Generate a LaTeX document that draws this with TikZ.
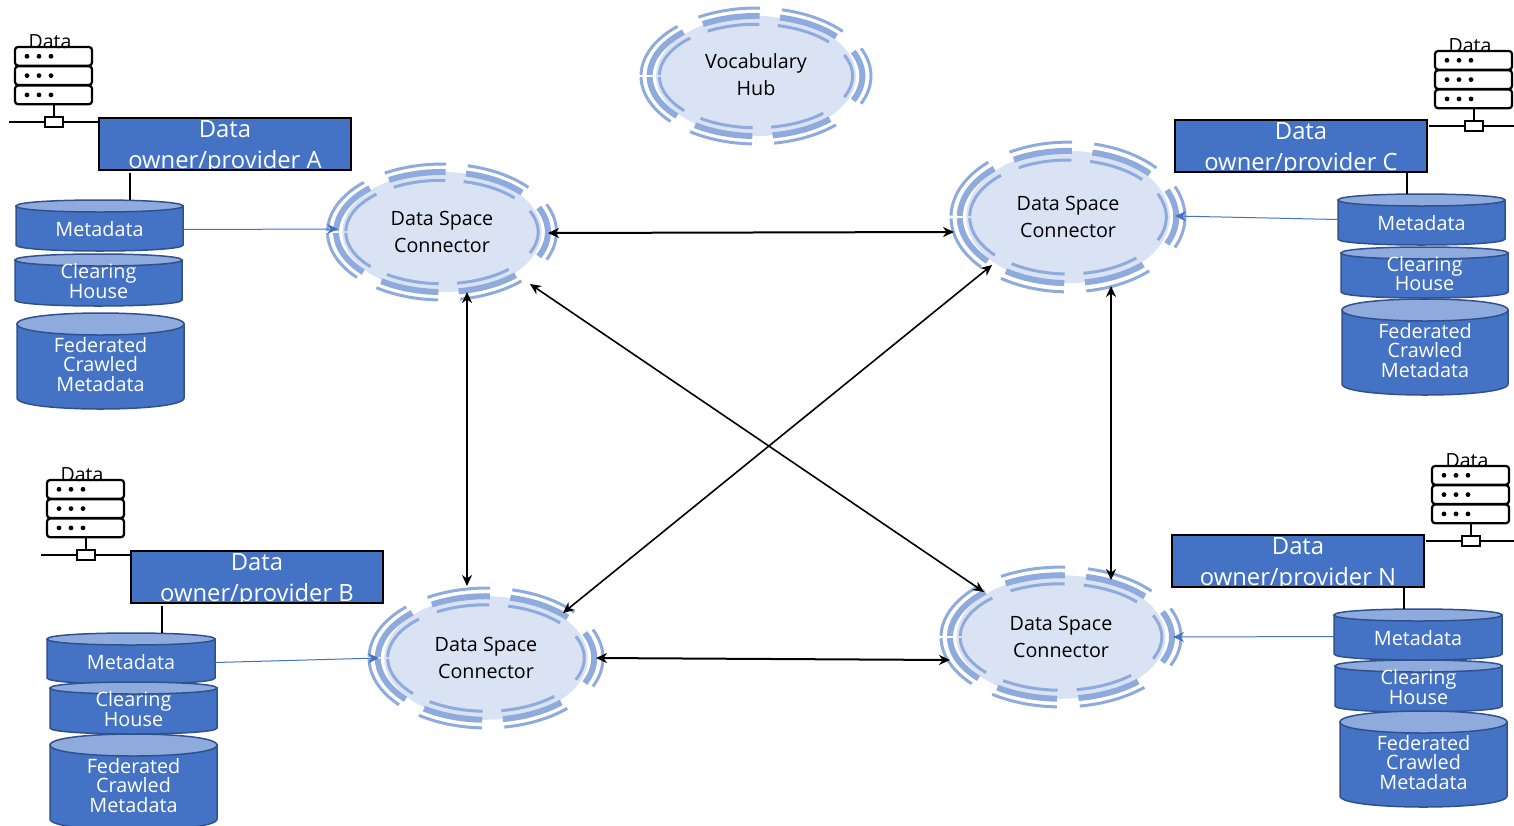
\documentclass[tikz,border=0pt]{standalone}
\usepackage{fontspec}
\setmainfont{Open Sans}
\usetikzlibrary{shapes.geometric,arrows.meta}
\definecolor{bluefill}{HTML}{4472C4}
\definecolor{blueedge}{HTML}{2F528F}
\definecolor{bluetop}{HTML}{8FAADC}
\definecolor{ringfill}{HTML}{DAE3F3}
\definecolor{ringline}{HTML}{8FAADC}
\tikzset{
  ringlabel/.style={inner sep=0pt,align=center,text=black,font=\fontsize{19.7}{27.3}\selectfont},
  ringbody/.style={ellipse,fill=ringfill,ringlabel},
  ringthin/.style={draw=ringline,line width=3pt},
  ringthick/.style={draw=ringline,line width=6pt},
  cylbody/.style={fill=bluefill,draw=blueedge,line width=1.5pt},
  cyltop/.style={fill=bluetop,draw=blueedge,line width=1.5pt},
  cyltext/.style={text=white,align=center,inner sep=0pt,font=\fontsize{19.8}{19.3}\selectfont},
  ownerbox/.style={draw=black,line width=2pt,fill=bluefill,minimum width=252pt,minimum height=52pt,inner sep=0pt},
  ownertext/.style={text=white,align=center,inner sep=0pt,font=\fontsize{23.8}{31}\selectfont},
  srv/.style={draw=black,line width=2.2pt,fill=white,rounded corners=3pt},
  srvline/.style={draw=black,line width=2.2pt},
  link/.style={draw=black,line width=2.2pt},
  biarrow/.style={draw=black,line width=2pt,{Stealth[length=11pt,width=10pt]}-{Stealth[length=11pt,width=10pt]}},
  biarrowthin/.style={draw=black,line width=1.6pt,{Stealth[length=11pt,width=10pt]}-{Stealth[length=11pt,width=10pt]}},
  feed/.style={draw=bluefill,line width=1pt,-{Stealth[length=11pt,width=10pt]}},
  datalabel/.style={text=black,inner sep=0pt,font=\fontsize{19.5}{20}\selectfont},
}
% name cx cy rx ry text
\newcommand{\ringnode}[6]{%
  \node[ringbody,minimum width=#4*1.74pt,minimum height=#5*1.74pt] (#1) at (#2,#3) {#6};
  \foreach \aa/\bb in {88/120,41/77,-24/24,-81/-46,-125/-92,181/222,133/179}{%
    \draw[ringthin] plot[domain=\aa:\bb,samples=16,smooth] ({#2+.84*#4*cos(\x)},{#3-.75*#5*sin(\x)});
    \draw[ringthick] plot[domain=\aa:\bb,samples=16,smooth] ({#2+.925*#4*cos(\x)},{#3-.87*#5*sin(\x)});
    \draw[ringthin] plot[domain=\aa:\bb,samples=16,smooth] ({#2+#4*cos(\x)},{#3-.985*#5*sin(\x)});
  }%
}
% [text shift] name x1 y1 x2 y2 e text
\newcommand{\cyl}[8][-2]{%
  \path[cylbody] (#3,#4+#7) -- (#3,#6-#7) .. controls (#3,#6+#7/3) and (#5,#6+#7/3) .. (#5,#6-#7) -- (#5,#4+#7) -- cycle;
  \path[cyltop] (#3,#4+#7) .. controls (#3,#4-#7/3) and (#5,#4-#7/3) .. (#5,#4+#7) .. controls (#5,#4+#7*7/3) and (#3,#4+#7*7/3) .. (#3,#4+#7) -- cycle;
  \node[cyltext] (#2) at ({(#3+#5)/2},{(#4+#6)/2+#7/2+#1}) {#8};
}
% name x y (top left of the icon) linestart lineend
\newcommand{\server}[5]{%
  \begin{scope}[shift={(#2,#3)}]
    \draw[srvline] (39,57) -- (39,70);
    \draw[srvline] (#4,75) -- (#5,75);
    \node[draw=black,line width=2.2pt,fill=white,minimum width=18pt,minimum height=10pt,inner sep=0pt] (#1-port) at (39,75) {};
    \foreach \yy in {0,19.3,38.6}{
      \draw[srv] (0,\yy) rectangle (77,\yy+18.6);
      \foreach \xx in {12,24,36} \fill (\xx,\yy+9.3) circle (2.4);
    }
    \node[datalabel] (#1-data) at (35,-5) {Data};
  \end{scope}
}
% name cx cy last-letter
\newcommand{\owner}[4]{%
  \node[ownerbox,path picture={
      \node[ownertext,anchor=center] at ([yshift=15.2pt]path picture bounding box.center) {Data};
      \node[ownertext,anchor=center] at ([yshift=-18.8pt]path picture bounding box.center) {owner/provider #4};
    }] (#1) at (#2,#3) {};
}
\begin{document}
\begin{tikzpicture}[x=1pt,y=-1pt]
\useasboundingbox (0,0) rectangle (1514,825);
\begin{scope}
\clip (0,0) rectangle (1514,825);

% rings
\ringnode{hub}{756}{76}{115}{69}{}
\node[ringlabel] (hublabel) at (756,74.5) {Vocabulary\\[-1pt]Hub};
\ringnode{connA}{442}{232}{114.5}{69}{Data Space\\Connector}
\ringnode{connC}{1068}{217}{117}{76}{Data Space\\Connector}
\ringnode{connB}{486}{658}{117}{71}{Data Space\\Connector}
\ringnode{connN}{1061}{637}{120}{71}{Data Space\\Connector}

% provider A
\server{srvA}{15}{47}{-6}{84}
\owner{ownerA}{225}{144}{A}
\cyl[1]{metaA}{16}{200}{183}{251}{6}{Metadata}
\cyl{clearA}{15}{254}{182}{306}{6}{Clearing\\House}
\cyl{fedA}{17}{313}{184}{409}{11}{Federated\\Crawled\\Metadata}
\draw[link] (130,173) -- (130,200);

% provider B
\server{srvB}{47}{480}{-6}{84}
\owner{ownerB}{257}{577}{B}
\cyl[1]{metaB}{47}{633}{215}{684}{6}{Metadata}
\cyl{clearB}{50}{682}{217}{734}{6}{Clearing\\House}
\cyl{fedB}{50}{734}{217}{830}{11}{Federated\\Crawled\\Metadata}
\draw[link] (162,606) -- (162,633);

% provider C
\server{srvC}{1435}{51}{-6}{84}
\owner{ownerC}{1301}{146}{C}
\cyl[1]{metaC}{1338}{194}{1505}{245}{6}{Metadata}
\cyl{clearC}{1341}{247}{1508}{298}{6}{Clearing\\House}
\cyl{fedC}{1342}{299}{1508}{395}{11}{Federated\\Crawled\\Metadata}
\draw[link] (1407,173) -- (1407,194);

% provider N
\server{srvN}{1432}{466}{-6}{84}
\owner{ownerN}{1298}{561}{N}
\cyl[1]{metaN}{1334}{609}{1502}{660}{6}{Metadata}
\cyl{clearN}{1335}{660}{1502}{712}{6}{Clearing\\House}
\cyl{fedN}{1340}{711}{1507}{807}{11}{Federated\\Crawled\\Metadata}
\draw[link] (1404,588) -- (1404,609);

% feeds
\draw[feed] ([shift={(83.5,0)}]metaA.center) -- ([shift={(-104,-3)}]connA.center);
\draw[feed] ([shift={(84,0)}]metaB.center) -- ([shift={(-107,0)}]connB.center);
\draw[feed] ([shift={(-83.5,-4)}]metaC.center) -- ([shift={(107,-1)}]connC.center);
\draw[feed] ([shift={(-84,-2)}]metaN.center) -- ([shift={(112,0)}]connN.center);

% connections between connectors
\draw[biarrow] ([shift={(106,1)}]connA.center) -- ([shift={(-114,15)}]connC.center);
\draw[biarrow] ([shift={(25,60)}]connA.center) -- ([shift={(-19,-72)}]connB.center);
\draw[biarrowthin] ([shift={(88,52)}]connA.center) -- ([shift={(-77,-45)}]connN.center);
\draw[biarrowthin] ([shift={(-76,48)}]connC.center) -- ([shift={(77,-45)}]connB.center);
\draw[biarrow] ([shift={(43,69)}]connC.center) -- ([shift={(50,-57)}]connN.center);
\draw[biarrow] ([shift={(110,0)}]connB.center) -- ([shift={(-111,23)}]connN.center);
\end{scope}
\end{tikzpicture}
\end{document}
